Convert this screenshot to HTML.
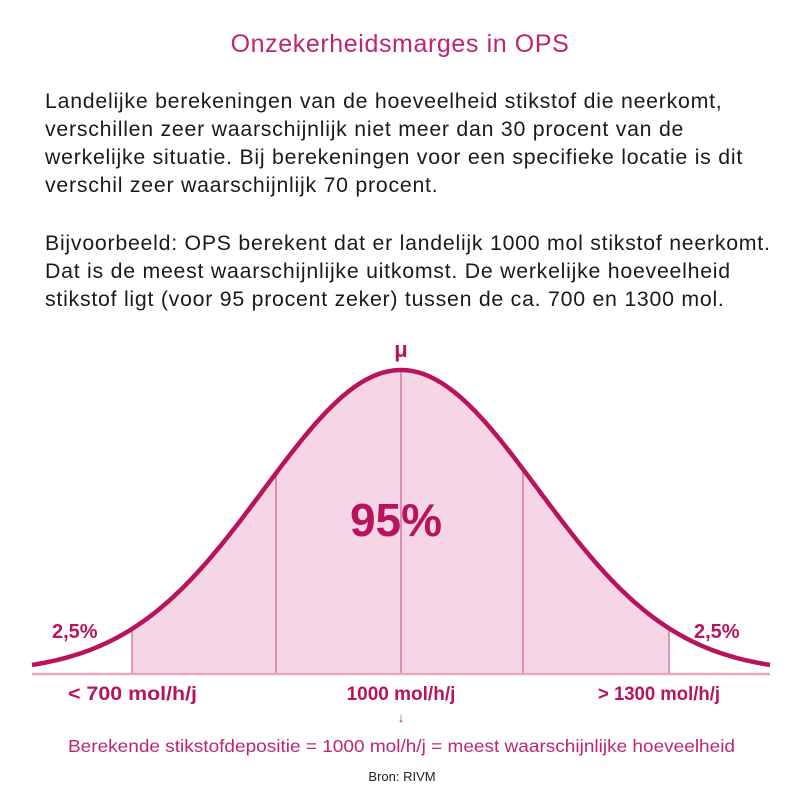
<!DOCTYPE html>
<html><head><meta charset="utf-8"><style>
body{margin:0;width:800px;height:800px;background:#fff;font-family:"Liberation Sans",sans-serif;position:relative;overflow:hidden}
.t{position:absolute;left:0;width:800px;text-align:center;top:30px;font-size:25px;letter-spacing:0.6px;color:#c0246f}
.p{position:absolute;left:45px;width:780px;font-size:21.3px;letter-spacing:0.75px;line-height:28px;color:#1a1a1a}
svg{position:absolute;left:0;top:0}
</style></head><body>
<div class="t">Onzekerheidsmarges in OPS</div>
<div class="p" style="top:87px">Landelijke berekeningen van de hoeveelheid stikstof die neerkomt,<br>verschillen zeer waarschijnlijk niet meer dan 30 procent van de<br>werkelijke situatie. Bij berekeningen voor een specifieke locatie is dit<br>verschil zeer waarschijnlijk 70 procent.</div>
<div class="p" style="top:229px">Bijvoorbeeld: OPS berekent dat er landelijk 1000 mol stikstof neerkomt.<br>Dat is de meest waarschijnlijke uitkomst. De werkelijke hoeveelheid<br>stikstof ligt (voor 95 procent zeker) tussen de ca. 700 en 1300 mol.</div>
<svg id="s" width="800" height="800" viewBox="0 0 800 800">
<path id="fill" fill="#f6d6e5"/>
<g stroke="#d06a98" stroke-width="1.3">
<line x1="132" x2="132" y1="600" y2="673" id="l1"/>
<line x1="276" x2="276" y1="400" y2="673" id="l2"/>
<line x1="401" x2="401" y1="370" y2="673"/>
<line x1="523" x2="523" y1="400" y2="673" id="l4"/>
<line x1="669" x2="669" y1="600" y2="673" id="l5"/>
</g>
<line x1="32" x2="770" y1="674" y2="674" stroke="#e8a6c4" stroke-width="2.5"/>
<path id="curve" fill="none" stroke="#b8145d" stroke-width="4.5"/>
<g fill="#b8145d" font-weight="bold" font-family="Liberation Sans, sans-serif">
<text x="401" y="357" font-size="22" text-anchor="middle">μ</text>
<text x="396" y="536" font-size="46" text-anchor="middle">95%</text>
<text x="52" y="638" font-size="20">2,5%</text>
<text x="694" y="638" font-size="20">2,5%</text>
<text x="68" y="700" font-size="19" textLength="129" lengthAdjust="spacingAndGlyphs">&lt; 700 mol/h/j</text>
<text x="401" y="700" font-size="19" text-anchor="middle">1000 mol/h/j</text>
<text x="598" y="700" font-size="19" textLength="122" lengthAdjust="spacingAndGlyphs">&gt; 1300 mol/h/j</text>
</g>
<text x="401" y="722" font-size="13" fill="#c0246f" text-anchor="middle">↓</text>
<text x="68" y="752" font-size="17.5" fill="#c0246f" textLength="667" lengthAdjust="spacingAndGlyphs">Berekende stikstofdepositie = 1000 mol/h/j = meest waarschijnlijke hoeveelheid</text>
<text x="402" y="781" font-size="13" fill="#222" text-anchor="middle">Bron: RIVM</text>
</svg>
<script>
var mu=401,sg=137,A=303,b=673;
function y(x){return b-A*Math.exp(-Math.pow((x-mu)/sg,2)/2);}
var c="",f="M132 673";
for(var x=32;x<=770;x+=2){c+=(x==32?"M":"L")+x+" "+y(x).toFixed(1);}
for(var x=132;x<=669;x+=2){f+="L"+x+" "+y(x).toFixed(1);}
f+="L669 "+y(669).toFixed(1)+"L669 673Z";
document.getElementById("curve").setAttribute("d",c);
document.getElementById("fill").setAttribute("d",f);
[["l1",132],["l2",276],["l4",523],["l5",669]].forEach(function(p){document.getElementById(p[0]).setAttribute("y1",y(p[1]));});
</script>
</body></html>
